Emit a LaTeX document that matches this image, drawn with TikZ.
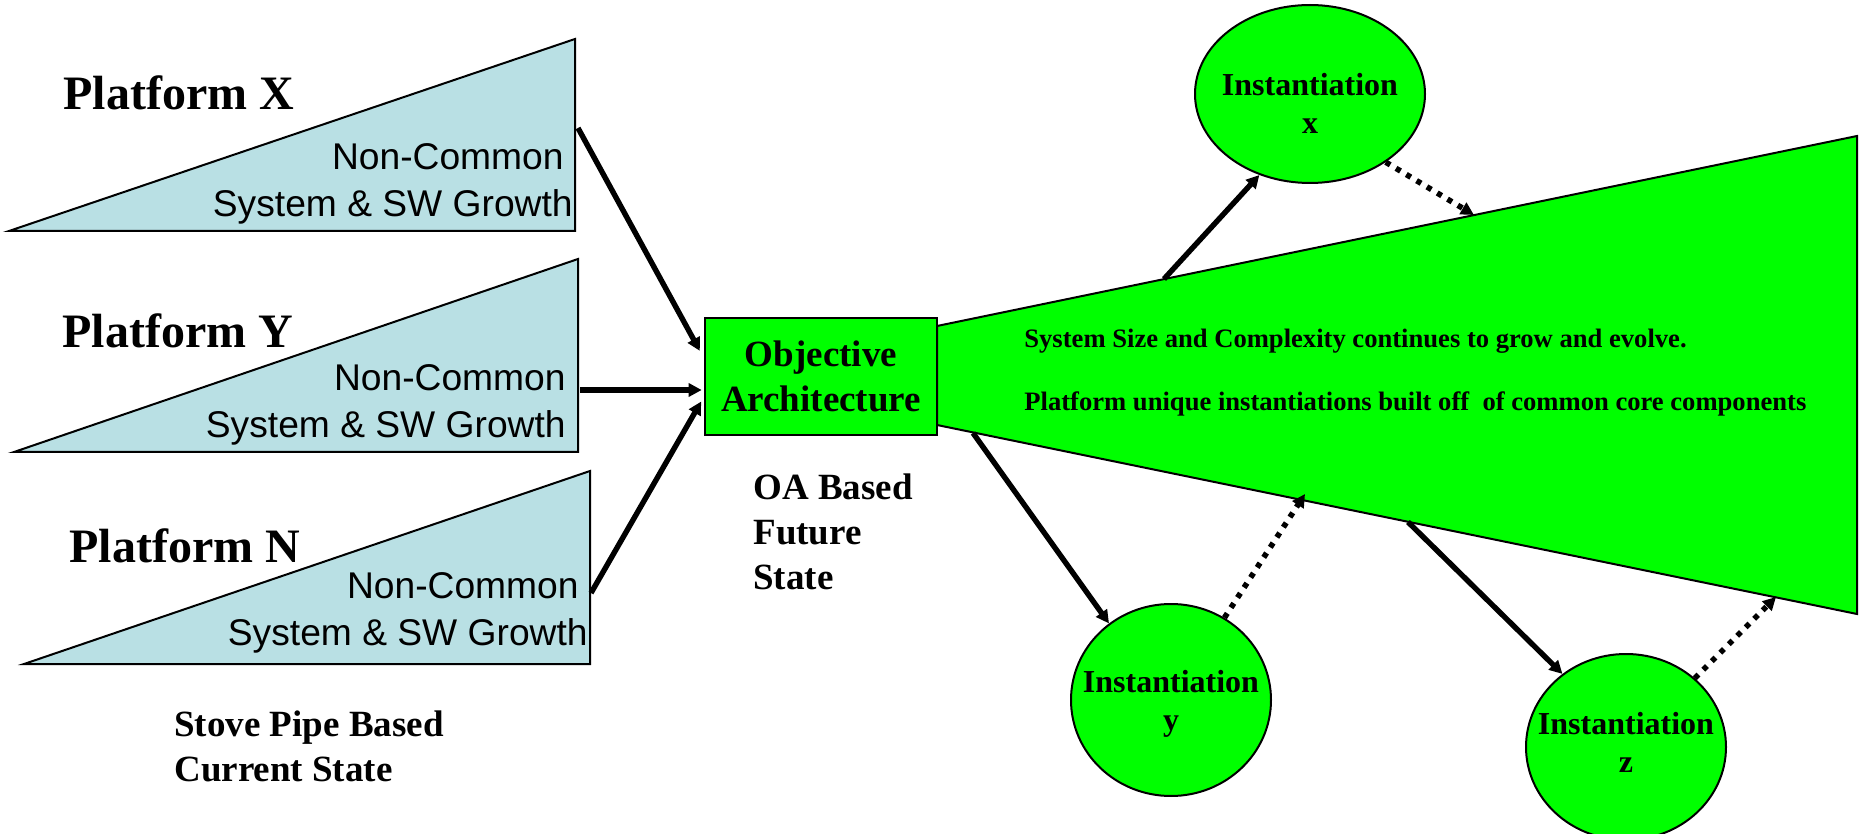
\documentclass[tikz,border=0pt]{standalone}
\usepackage{fontspec}
\setmainfont{Liberation Serif}
\newfontfamily\arialf{Liberation Sans}
\usetikzlibrary{arrows.meta,shapes.geometric}
\definecolor{lblue}{RGB}{185,224,228}
\definecolor{vgreen}{RGB}{0,255,0}
\begin{document}
\begin{tikzpicture}[x=0.5pt,y=-0.5pt,
  tri/.style={draw=black,line width=1pt,fill=lblue,line join=miter},
  plat/.style={anchor=west,inner sep=0pt,font=\fontsize{24pt}{28pt}\selectfont\bfseries},
  ncg/.style={anchor=east,inner sep=0pt,align=right,font=\arialf\fontsize{18.6pt}{23.5pt}\selectfont},
  lbl/.style={anchor=west,inner sep=0pt,align=left,font=\fontsize{18.5pt}{22.5pt}\selectfont\bfseries},
  box/.style={draw=black,line width=1.3pt,fill=vgreen,minimum width=116pt,minimum height=58.5pt,inner sep=0pt,align=center,font=\fontsize{18.5pt}{22.5pt}\selectfont\bfseries},
  inst/.style={ellipse,draw=black,line width=1pt,fill=vgreen,inner sep=0pt},
  itxt/.style={inner sep=0pt,align=center,font=\fontsize{16pt}{19pt}\selectfont\bfseries},
  trap/.style={draw=black,line width=1pt,fill=vgreen},
  ttxt/.style={anchor=west,inner sep=0pt,font=\fontsize{13.3pt}{16pt}\selectfont\bfseries},
  arr/.style={line width=2.7pt,-{Triangle[length=6.5pt,width=6.5pt]}},
  darr/.style={line width=2.8pt,dash pattern=on 2.6pt off 3.4pt,-{Triangle[length=6.5pt,width=6.5pt]}}
]
\useasboundingbox (0,0) rectangle (1860,834);

% left triangles
\draw[tri] (9,231) -- (575,39) -- (575,231) -- cycle;
\draw[tri] (14,452) -- (578,259) -- (578,452) -- cycle;
\draw[tri] (24,664) -- (590,471) -- (590,664) -- cycle;

\node[plat] (px) at (63,93) {Platform X};
\node[plat] (py) at (62,331) {Platform Y};
\node[plat] (pn) at (69,546) {Platform N};

\node[ncg] (nx) at (573,184) {Non-Common\hspace*{4.5pt}\\System \& SW Growth};
\node[ncg] (ny) at (566,405) {Non-Common\\System \& SW Growth};
\node[ncg] (nn) at (588,613) {Non-Common\hspace*{4.5pt}\\System \& SW Growth};

\node[lbl] (stove) at (174,746) {Stove Pipe Based\\Current State};

% trapezoid
\draw[trap] (937,326) coordinate (t1) -- (1857,136) coordinate (t2) -- (1857,614) coordinate (t3) -- (937,425) coordinate (t4) -- cycle;

\node[box] (oa) at (821,376.5) {Objective\\Architecture};
\node[lbl] (oab) at (753,532) {OA Based\\Future\\State};

\node[ttxt] (tt1) at (1024,341) {System Size and Complexity continues to grow and evolve.};
\node[ttxt] (tt2) at (1024,404) {Platform unique instantiations built off \ of common core components};

% instantiation ellipses
\node[inst,minimum width=115pt,minimum height=89pt] (ix) at (1310,94) {};
\node[inst,minimum width=100pt,minimum height=96pt] (iy) at (1171,700) {};
\node[inst,minimum width=100pt,minimum height=93pt] (iz) at (1626,747) {};
\node[itxt] (ixt) at ([yshift=-4.75pt]ix.center) {Instantiation\\x};
\node[itxt] (iyt) at ([yshift=-2pt]iy.center) {Instantiation\\y};
\node[itxt] (izt) at ([yshift=2.5pt]iz.center) {Instantiation\\z};

% connector points
\coordinate (ax) at (578,128);
\coordinate (ay) at (580,390);
\coordinate (an) at (591,593);
\coordinate (s1) at (973,433);
\coordinate (s2) at (1164,279);
\coordinate (s3) at (1408,522);
\coordinate (e1) at (1474,215);
\coordinate (e2) at (1305,494);
\coordinate (e3) at (1776,597);

\draw[arr,shorten >=4pt] (ax) -- (oa.171);
\draw[arr,shorten >=1pt] (ay) -- (ay -| oa.west);
\draw[arr,shorten >=2.5pt] (an) -- (oa.190);
\draw[arr] (s1) -- (iy.129);
\draw[arr] (s2) -- (ix.238);
\draw[arr] (s3) -- (iz.131);
\draw[darr] (ix.-42) -- (e1);
\draw[darr] (iy.57) -- (e2);
\draw[darr] (iz.45) -- (e3);
\end{tikzpicture}
\end{document}
